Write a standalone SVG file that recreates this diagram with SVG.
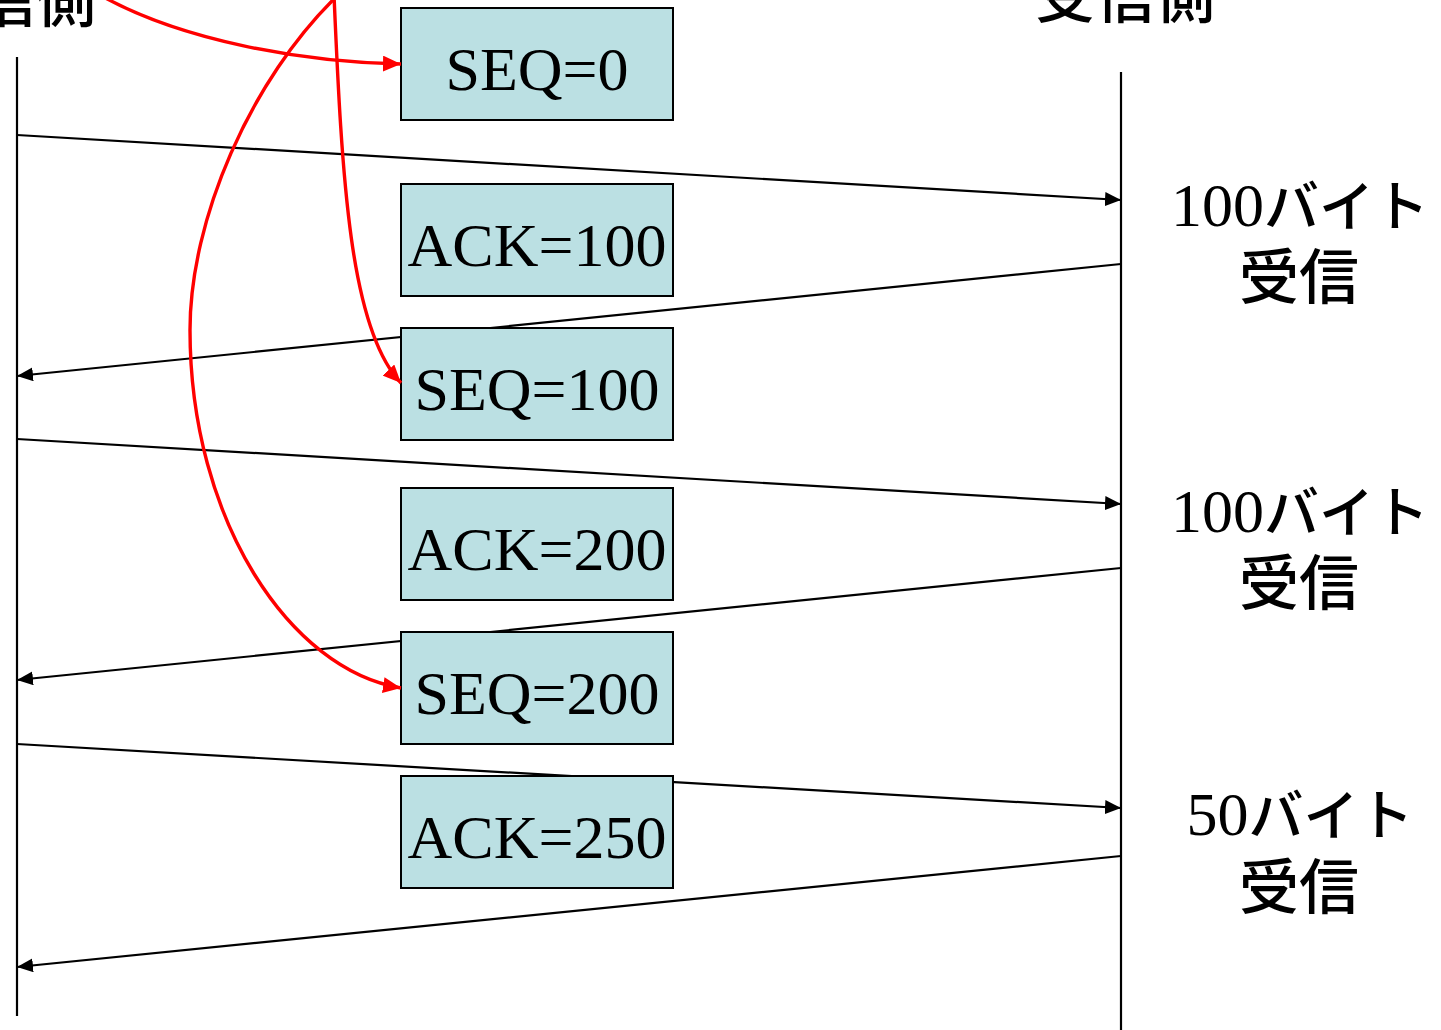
<svg xmlns="http://www.w3.org/2000/svg" width="1441" height="1030" viewBox="0 0 1441 1030">
<style>
.life{stroke:#000;stroke-width:2.2;fill:none}
.msg{stroke:#000;stroke-width:2.2;fill:none;marker-end:url(#ah)}
.red{stroke:#FF0000;stroke-width:3.4;fill:none;marker-end:url(#rh)}
.box{fill:#BBE0E3;stroke:#000;stroke-width:2}
.bt{font-family:"Liberation Serif","Times New Roman",serif;font-size:62px;fill:#000;text-anchor:middle}
.lbl{font-family:"Liberation Serif","Noto Sans CJK JP",serif;font-size:62px;fill:#000;text-anchor:middle}
.kana{font-family:"Noto Sans CJK JP",sans-serif;font-size:55px;font-weight:500}
.jp{font-family:"Noto Sans CJK JP",sans-serif;font-size:60px;font-weight:500;fill:#000}
</style>
<defs>
<marker id="ah" markerUnits="userSpaceOnUse" markerWidth="16" markerHeight="14" refX="16" refY="7" orient="auto">
<path d="M0,0 L16,7 L0,14 z" fill="#000"/>
</marker>
<marker id="rh" markerUnits="userSpaceOnUse" markerWidth="18" markerHeight="16" refX="18" refY="8" orient="auto">
<path d="M0,0 L18,8 L0,16 z" fill="#FF0000"/>
</marker>
</defs>
<g id="sender-label"><text class="jp" x="96" y="22" text-anchor="end">送信側</text></g>
<g id="receiver-label"><text class="jp" x="1125" y="18" text-anchor="middle">受信側</text></g>
<g id="connectors">
<line class="life" x1="17" y1="57" x2="17" y2="1016"/>
<line class="life" x1="1121" y1="72" x2="1121" y2="1030"/>
<line class="msg" x1="17" y1="135" x2="1121" y2="200"/>
<line class="msg" x1="1121" y1="264" x2="17" y2="376"/>
<line class="msg" x1="17" y1="439" x2="1121" y2="504"/>
<line class="msg" x1="1121" y1="568" x2="17" y2="680"/>
<line class="msg" x1="17" y1="744" x2="1121" y2="808"/>
<line class="msg" x1="1121" y1="856" x2="17" y2="967"/>
</g>
<g id="seq0"><rect class="box" x="401" y="8" width="272" height="112"/><text class="bt" x="537" y="90">SEQ=0</text></g>
<g id="ack100"><rect class="box" x="401" y="184" width="272" height="112"/><text class="bt" x="537" y="266">ACK=100</text></g>
<g id="seq100"><rect class="box" x="401" y="328" width="272" height="112"/><text class="bt" x="537" y="410">SEQ=100</text></g>
<g id="ack200"><rect class="box" x="401" y="488" width="272" height="112"/><text class="bt" x="537" y="570">ACK=200</text></g>
<g id="seq200"><rect class="box" x="401" y="632" width="272" height="112"/><text class="bt" x="537" y="714">SEQ=200</text></g>
<g id="ack250"><rect class="box" x="401" y="776" width="272" height="112"/><text class="bt" x="537" y="858">ACK=250</text></g>
<g id="recv1"><text class="lbl" x="1300" y="226">100<tspan class="kana">バイト</tspan></text><text class="jp" x="1299" y="299" text-anchor="middle">受信</text></g>
<g id="recv2"><text class="lbl" x="1300" y="532">100<tspan class="kana">バイト</tspan></text><text class="jp" x="1299" y="605" text-anchor="middle">受信</text></g>
<g id="recv3"><text class="lbl" x="1300" y="835">50<tspan class="kana">バイト</tspan></text><text class="jp" x="1299" y="909" text-anchor="middle">受信</text></g>
<g id="red-connectors">
<path class="red" d="M100,-5 C180,40 300,62 401,64"/>
<path class="red" d="M334,-5 C342,180 350,330 401,383"/>
<path class="red" d="M338,-5 C250,80 190,220 190,330 C190,520 290,670 401,688"/>
</g>
</svg>
